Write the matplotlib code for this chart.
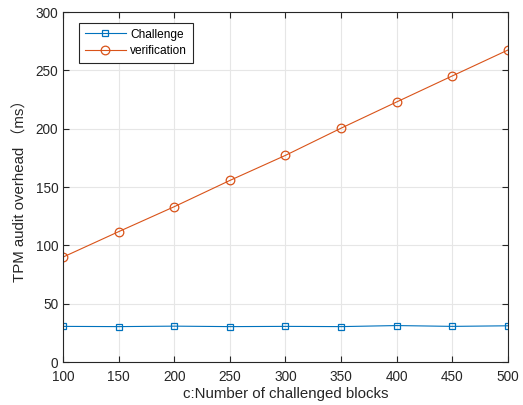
import numpy as np
import matplotlib.pyplot as plt

plt.rcParams['font.family'] = ['Liberation Sans', 'Noto Sans CJK SC', 'DejaVu Sans']

blocks = [100, 150, 200, 250, 300, 350, 400, 450, 500]
challenge = [30.6, 30.4, 30.8, 30.4, 30.6, 30.4, 31.3, 30.6, 31.1]
verification = [90.0, 111.8, 133.2, 155.7, 177.2, 200.5, 223.0, 245.3, 267.5]

fig = plt.figure(figsize=(5.23, 4.05), dpi=100)
ax = fig.add_axes([0.1205, 0.106, 0.8505, 0.864])

ax.plot(blocks, challenge, color='#0072BD', linewidth=0.8, marker='s',
        markersize=4.6, markerfacecolor='none', markeredgewidth=0.9, label='Challenge')
ax.plot(blocks, verification, color='#D95319', linewidth=0.8, marker='o',
        markersize=6.2, markerfacecolor='none', markeredgewidth=0.9, label='verification')

ax.set_xlim(100, 500)
ax.set_ylim(0, 300)
ax.set_xticks(np.arange(100, 501, 50))
ax.set_yticks(np.arange(0, 301, 50))
ax.grid(True, color='#e6e6e6', linewidth=0.8)
ax.set_axisbelow(True)
ax.tick_params(direction='in', top=True, right=True, labelsize=9.8, colors='#262626', length=4)
ax.tick_params(axis='x', pad=6)
for s in ax.spines.values():
    s.set_color('#262626')
    s.set_linewidth(0.8)

ax.set_xlabel('c:Number of challenged blocks', fontsize=10.8, color='#262626', labelpad=2)
ax.set_ylabel('TPM audit overhead （ms）', fontsize=10.8, color='#262626', labelpad=6)

leg = ax.legend(loc='upper left', bbox_to_anchor=(0.036, 0.97), fancybox=False,
                edgecolor='#262626', framealpha=1, fontsize=8.6, borderpad=0.5,
                handlelength=3.4, handletextpad=0.4, labelspacing=0.35, borderaxespad=0)
leg.get_frame().set_linewidth(0.8)

fig.savefig('out.png', dpi=100)
